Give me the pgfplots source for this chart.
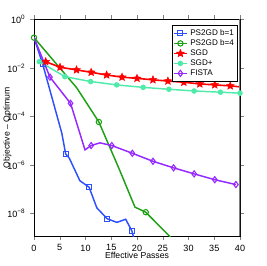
\documentclass[border=0pt]{standalone}
\usepackage{pgfplots}
\pgfplotsset{compat=1.18}
\usepackage{fontspec}
\setmainfont{Liberation Sans}
\definecolor{cblue}{RGB}{45,80,255}
\definecolor{cgreen}{RGB}{30,160,20}
\definecolor{cred}{RGB}{255,0,0}
\definecolor{cteal}{RGB}{80,235,170}
\definecolor{cpurple}{RGB}{150,40,255}
\pgfdeclareplotmark{fstar}{%
  \pgfpathmoveto{\pgfpointpolar{90}{\pgfplotmarksize}}%
  \pgfpathlineto{\pgfpointpolar{126}{0.45\pgfplotmarksize}}%
  \pgfpathlineto{\pgfpointpolar{162}{\pgfplotmarksize}}%
  \pgfpathlineto{\pgfpointpolar{198}{0.45\pgfplotmarksize}}%
  \pgfpathlineto{\pgfpointpolar{234}{\pgfplotmarksize}}%
  \pgfpathlineto{\pgfpointpolar{270}{0.45\pgfplotmarksize}}%
  \pgfpathlineto{\pgfpointpolar{306}{\pgfplotmarksize}}%
  \pgfpathlineto{\pgfpointpolar{342}{0.45\pgfplotmarksize}}%
  \pgfpathlineto{\pgfpointpolar{18}{\pgfplotmarksize}}%
  \pgfpathlineto{\pgfpointpolar{54}{0.45\pgfplotmarksize}}%
  \pgfpathclose
  \pgfusepathqfillstroke}
\begin{document}
\begin{tikzpicture}
\path[use as bounding box] (-25.5pt,-22.5pt) rectangle (174pt,177pt);
\begin{axis}[
  at={(0,0)}, anchor=south west,
  scale only axis, width=154.5pt, height=162.4pt,
  xmin=0, xmax=40, ymode=log, ymin=1.17e-9, ymax=1,
  xtick={0,5,...,40},
  ytick={1,1e-2,1e-4,1e-6,1e-8},
  yticklabels={10\textsuperscript{0},10\textsuperscript{−2},10\textsuperscript{−4},10\textsuperscript{−6},10\textsuperscript{−8}},
  minor ytick={},
  tick align=outside, major tick length=3pt,
  /pgf/number format/assume math mode=true,
  tick label style={font=\fontsize{6.8}{8}\selectfont},
  xlabel={Effective Passes}, ylabel={Objective – Optimum},
  every axis x label/.style={at={(axis description cs:0.5,-0.091)}, anchor=center, font=\fontsize{6.5}{7}\selectfont},
  every axis y label/.style={at={(axis description cs:-0.1286,0.5)}, anchor=center, rotate=90, font=\fontsize{6.5}{7}\selectfont},
  axis line style={line width=0.6pt},
  legend style={at={(0.99,0.973)}, anchor=north east, draw=black, font=\fontsize{6.1}{7}\selectfont, inner sep=0.8pt, row sep=-2.3pt, cells={anchor=west}},
  legend image code/.code={\draw[mark indices={2}] plot coordinates {(0cm,0cm) (0.17cm,0cm) (0.34cm,0cm)};},
]
\addplot[cblue, line width=1.1pt, mark=square, mark size=1.9pt, mark options={line width=0.8pt, solid, fill=white}, mark indices={2,4,7,9,12}] coordinates {
(0,0.178) (1.7,1.41e-2) (5.4,2.04e-5) (6.15,2.82e-6) (6.85,1.91e-6) (8.9,2.24e-7) (10.7,1.20e-7) (12.2,1.70e-8) (14.2,6.03e-9) (16.1,4.27e-9) (17.8,5.75e-9) (19.0,1.91e-9) (19.6,6.3e-10)};
\addlegendentry{PS2GD b=1}
\addplot[cgreen, line width=1.1pt, mark=o, mark size=2pt, mark options={line width=0.8pt, fill=white}, mark indices={1,3,6}] coordinates {
(0,0.178) (8.3,1.51e-3) (12.6,5.89e-5) (16.6,6.31e-7) (19.6,1.82e-8) (21.7,1.12e-8) (26.4,1.10e-9) (30,1.58e-10)};
\addlegendentry{PS2GD b=4}
\addplot[cred, line width=1.2pt, mark=fstar, mark size=3pt, mark options={line width=0.4pt, fill=cred}, mark indices={1,...,13}] coordinates {
(2.27,1.82e-2) (5.05,1.07e-2) (8.25,8.32e-3) (11.1,6.61e-3) (14.1,5.13e-3) (17.1,4.17e-3) (20.0,3.72e-3) (23.1,3.24e-3) (26.0,2.88e-3) (29.1,2.57e-3) (32.2,2.19e-3) (35.1,2.00e-3) (38.1,1.82e-3) (40,1.66e-3)};
\addlegendentry{SGD}
\addplot[cteal, line width=1.1pt, mark=*, mark size=1.5pt, mark indices={1,...,9}] coordinates {
(1.03,1.82e-2) (6.0,4.37e-3) (11.0,2.75e-3) (16.05,2.00e-3) (21.2,1.58e-3) (26.2,1.32e-3) (31.1,1.12e-3) (36.2,1.0e-3) (40,9.12e-4)};
\addlegendentry{SGD+}
\addplot[cpurple, line width=1.1pt, mark=diamond, mark size=2.3pt, mark options={line width=0.8pt, fill=white}, mark indices={2,3,5,7,8,9,10,11,12,13}] coordinates {
(0,0.178) (3.1,4.17e-3) (7.1,3.47e-4) (9.9,4.17e-6) (11.1,6.31e-6) (12.8,8.13e-6) (15.1,6.31e-6) (19.1,3.02e-6) (23.1,1.41e-6) (27.1,7.59e-7) (31.1,4.27e-7) (35.1,2.45e-7) (39.2,1.55e-7)};
\addlegendentry{FISTA}
\draw[gray, line width=1.2pt] (rel axis cs:1,0) -- (rel axis cs:1,1);
\end{axis}
\end{tikzpicture}
\end{document}
